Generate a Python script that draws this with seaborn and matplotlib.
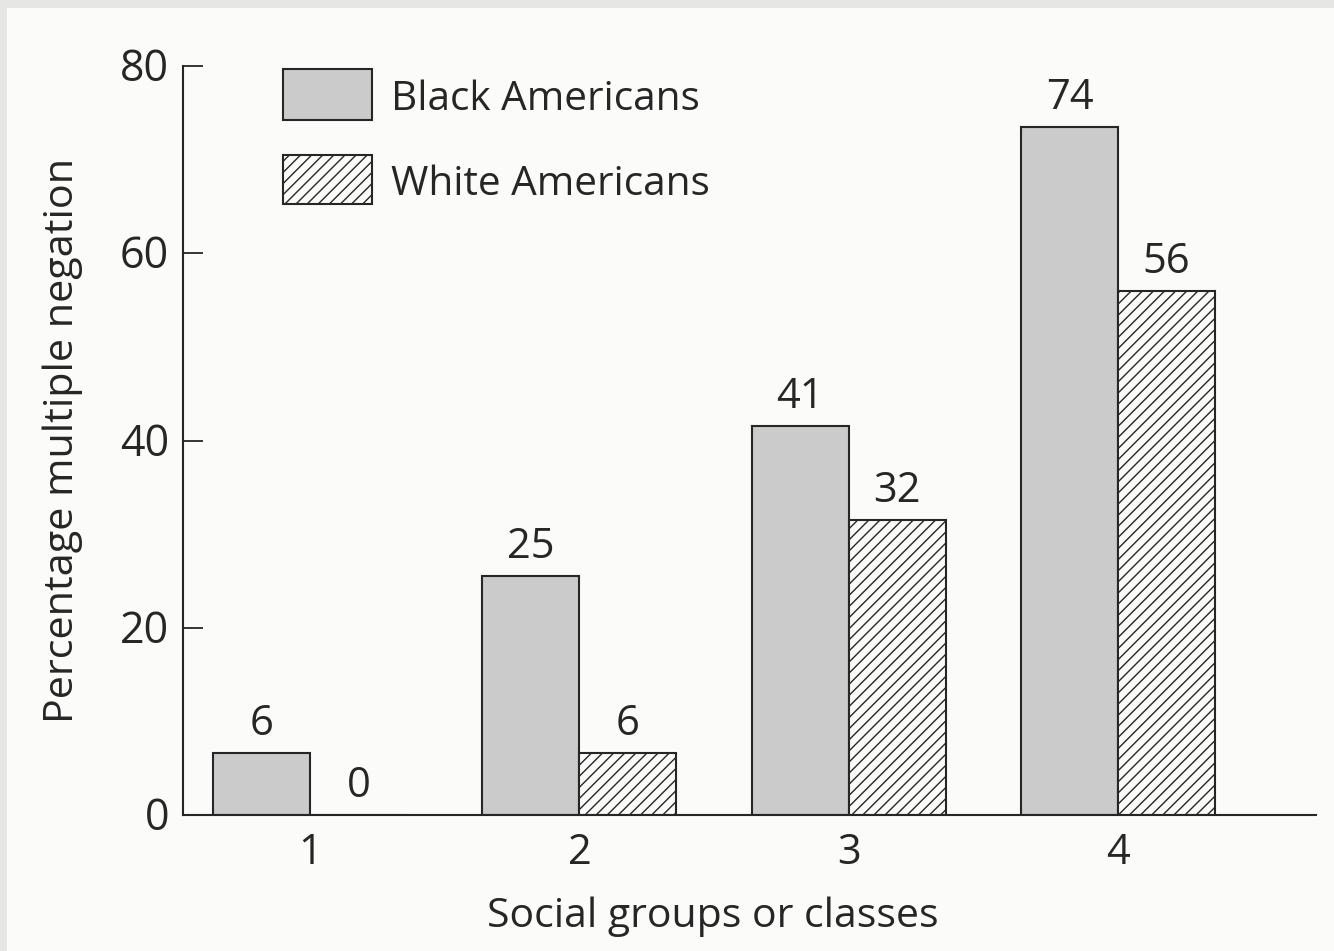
import numpy as np
import pandas as pd
import matplotlib
matplotlib.use("Agg")
import matplotlib.pyplot as plt
from matplotlib.transforms import ScaledTranslation
import seaborn as sns

groups = ["1", "2", "3", "4"]
black = [6.6, 25.5, 41.5, 73.5]
white = [0, 6.6, 31.5, 56]
black_labels = ["6", "25", "41", "74"]
white_labels = ["0", "6", "32", "56"]
series_names = ["Black Americans", "White Americans"]

W, H = 1334, 951
INK = "#262626"
PAPER = "#fbfbfa"
sns.set_theme(style="white")
plt.rcParams['font.family'] = ['Open Sans', 'DejaVu Sans']
plt.rcParams['hatch.linewidth'] = 1.0
plt.rcParams['hatch.color'] = '#555555'

df = pd.DataFrame({"group": groups * 2,
                   "value": black + white,
                   "series": [series_names[0]] * 4 + [series_names[1]] * 4})

fig = plt.figure(figsize=(W / 100, H / 100), dpi=100, facecolor="#e6e6e4")
fig.add_artist(matplotlib.patches.Rectangle((7 / W, 0), 1, 1 - 8 / H, transform=fig.transFigure,
                                            facecolor=PAPER, edgecolor="none", zorder=-5))
ax = fig.add_axes([183 / W, 1 - 815 / H, (1316 - 183) / W, (815 - 66) / H])
ax.patch.set_alpha(0)

sns.barplot(data=df, x="group", y="value", hue="series", order=groups,
            hue_order=series_names, palette=["#cbcbcb", PAPER],
            edgecolor=INK, linewidth=1.5, width=0.72, gap=0, ax=ax, legend=False)

cont_b, cont_w = ax.containers[0], ax.containers[1]
for p in cont_w:
    p.set_hatch("///")

ax.set_xlim(-0.472, 3.735)
ax.set_ylim(0, 80)

for cont, labs in ((cont_b, black_labels), (cont_w, white_labels)):
    for p, lab in zip(cont, labs):
        ax.annotate(lab, (p.get_x() + p.get_width() / 2, p.get_height()),
                    xytext=(0, 29), textcoords="offset pixels", ha="center", va="center",
                    fontsize=30, color=INK)

ax.set_yticks([0, 20, 40, 60, 80])
ax.tick_params(axis="y", left=True, direction="in", length=14.4, width=1.3, color=INK,
               labelsize=31, labelcolor=INK, pad=10)
ax.tick_params(axis="x", bottom=False, labelsize=30, labelcolor=INK, pad=6)
up = ScaledTranslation(0, 1.5 / 100, fig.dpi_scale_trans)
for lab in ax.get_yticklabels():
    lab.set_transform(lab.get_transform() + up)
ax.set_xlabel("Social groups or classes", fontsize=29.5, color=INK)
ax.xaxis.set_label_coords(0.468, -0.109)
ax.set_ylabel("Percentage multiple negation", fontsize=29.8, color=INK)
ax.yaxis.set_label_coords(-0.088, 0.5)
sns.despine(ax=ax)
for s in ("left", "bottom"):
    ax.spines[s].set_color(INK)
    ax.spines[s].set_linewidth(1.5)

hb = matplotlib.patches.Rectangle((283 / W, 1 - 120 / H), 89 / W, 51 / H, transform=fig.transFigure,
                                  facecolor="#cbcbcb", edgecolor=INK, linewidth=1.5)
hw = matplotlib.patches.Rectangle((283 / W, 1 - 204 / H), 89 / W, 49 / H, transform=fig.transFigure,
                                  facecolor=PAPER, edgecolor=INK, linewidth=1.5, hatch="///")
fig.add_artist(hb)
fig.add_artist(hw)
fig.text(391 / W, 1 - 100 / H, series_names[0], fontsize=29.2, color=INK, va="center")
fig.text(391 / W, 1 - 185 / H, series_names[1], fontsize=29.2, color=INK, va="center")

fig.savefig("out.png", dpi=100, facecolor=fig.get_facecolor())
